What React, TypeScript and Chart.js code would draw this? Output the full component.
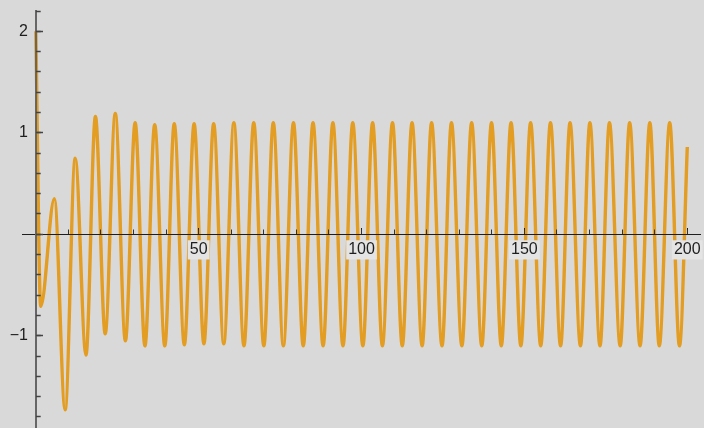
import React, { useEffect, useRef } from "react";
import { Chart, registerables } from "chart.js";

Chart.register(...registerables);

// Turning points of the curve
const extremaX: number[] = [
  0, 1.5, 5.7, 9.0, 12.1, 15.4, 18.3, 21.3, 24.4, 27.5,
  30.5, 33.5, 36.5, 39.6, 42.5, 45.6, 48.6, 51.6, 54.6, 57.7,
  60.8, 63.9, 66.9, 70.0, 72.9, 76.0, 79.1, 82.1, 85.1, 88.2,
  91.2, 94.3, 97.3, 100.4, 103.4, 106.4, 109.5, 112.5, 115.5, 118.6,
  121.5, 124.7, 127.6, 130.8, 133.8, 136.9, 139.9, 142.9, 145.9, 148.9,
  151.9, 155.0, 158.0, 161.1, 164.0, 167.2, 170.1, 173.2, 176.1, 179.4,
  182.3, 185.5, 188.5, 191.4, 194.6, 197.6, 200,
];
const extremaY: number[] = [
  2.0, -0.71, 0.35, -1.73, 0.75, -1.19, 1.16, -0.98, 1.19, -1.05,
  1.1, -1.1, 1.08, -1.1, 1.09, -1.09, 1.09, -1.08, 1.09, -1.08,
  1.1, -1.1, 1.1, -1.1, 1.1, -1.1, 1.1, -1.1, 1.1, -1.1,
  1.1, -1.1, 1.1, -1.1, 1.1, -1.1, 1.1, -1.1, 1.1, -1.1,
  1.1, -1.1, 1.1, -1.1, 1.1, -1.1, 1.1, -1.1, 1.1, -1.1,
  1.1, -1.1, 1.1, -1.1, 1.1, -1.1, 1.1, -1.1, 1.1, -1.1,
  1.1, -1.1, 1.1, -1.1, 1.1, -1.1, 0.86,
];

const xTickLabels: number[] = [50, 100, 150, 200];
const yTickLabels: number[] = [2, 1, -1];

const X_MIN = -4.24;
const X_MAX = 203.9;
const Y_MIN = -1.909;
const Y_MAX = 2.2;

export default function App() {
  const ref = useRef<HTMLCanvasElement>(null);

  useEffect(() => {
    document.body.style.margin = "0";
    document.body.style.background = "#d9d9d9";
    const canvas = ref.current!;
    const points = extremaX.map((x, i) => ({ x, y: extremaY[i] }));
    const font = { family: "'Liberation Sans', Arial, sans-serif", size: 16 };
    const noPad = (s: any) => {
      s.paddingLeft = 0;
      s.paddingRight = 0;
      s.paddingTop = 0;
      s.paddingBottom = 0;
    };
    const fmt = (v: number) => (v < 0 ? "\u2212" + Math.abs(v) : String(v));

    const chart = new Chart(canvas, {
      type: "line",
      data: {
        datasets: [
          {
            data: points,
            borderColor: "#e29d22",
            borderWidth: 3.4,
            pointRadius: 0,
            fill: false,
            cubicInterpolationMode: "monotone",
            xAxisID: "x",
            yAxisID: "y",
          } as any,
        ],
      },
      options: {
        animation: false,
        responsive: false,
        devicePixelRatio: 1,
        events: [],
        layout: { padding: { left: 22, right: 4, top: 11, bottom: 0 } },
        plugins: { legend: { display: false }, tooltip: { enabled: false } },
        scales: {
          x: {
            type: "linear",
            axis: "x",
            position: { y: 0 },
            min: X_MIN,
            max: X_MAX,
            afterFit: noPad,
            border: { display: true, color: "#1e1e1e", width: 1, z: 2 },
            grid: { display: true, z: 2, drawOnChartArea: false, drawTicks: true, tickLength: -7, tickColor: "#1e1e1e", tickWidth: 1 },
            ticks: {
              z: 3,
              stepSize: 50,
              includeBounds: false,
              autoSkip: false,
              maxRotation: 0,
              minRotation: 0,
              padding: 13,
              font,
              color: "#1e1e1e",
              showLabelBackdrop: (c: any) => xTickLabels.includes(c.tick.value),
              backdropColor: "#e4e4e4",
              backdropPadding: { x: 2, y: 0 },
              callback: (v: any) => (xTickLabels.includes(v) ? String(v) : ""),
            },
          } as any,
          xm: {
            type: "linear",
            axis: "x",
            position: { y: 0 },
            min: X_MIN,
            max: X_MAX,
            afterFit: noPad,
            border: { display: false },
            grid: { display: true, z: 2, drawOnChartArea: false, drawTicks: true, tickLength: -4.5, tickColor: "#333", tickWidth: 1 },
            ticks: { stepSize: 10, includeBounds: false, autoSkip: false, display: false },
          } as any,
          y: {
            type: "linear",
            axis: "y",
            position: { x: 0 },
            min: Y_MIN,
            max: Y_MAX,
            afterFit: noPad,
            border: { display: true, color: "#666", width: 2, z: 2 },
            grid: { display: true, z: 2, drawOnChartArea: false, drawTicks: true, tickLength: -8, tickColor: "#444", tickWidth: 1.5 },
            ticks: { stepSize: 1, includeBounds: false, autoSkip: false, display: false },
          } as any,
          ym: {
            type: "linear",
            axis: "y",
            position: { x: 0 },
            min: Y_MIN,
            max: Y_MAX,
            afterFit: noPad,
            border: { display: false },
            grid: { display: true, z: 2, drawOnChartArea: false, drawTicks: true, tickLength: -4.7, tickColor: "#444", tickWidth: 1.5 },
            ticks: { stepSize: 0.2, includeBounds: false, autoSkip: false, display: false },
          } as any,
          yl: {
            type: "linear",
            axis: "y",
            position: { x: -2.4 },
            min: Y_MIN,
            max: Y_MAX,
            afterFit: noPad,
            border: { display: false },
            grid: { display: false },
            ticks: {
              z: 3,
              stepSize: 1,
              includeBounds: false,
              autoSkip: false,
              padding: 0,
              font,
              color: "#1e1e1e",
              callback: (v: any) => (yTickLabels.includes(v) ? fmt(v) : ""),
            },
          } as any,
        },
      },
    });
    return () => chart.destroy();
  }, []);

  return (
    <canvas
      ref={ref}
      width={704}
      height={428}
      style={{ display: "block", width: 704, height: 428, background: "#d9d9d9" }}
    />
  );
}
